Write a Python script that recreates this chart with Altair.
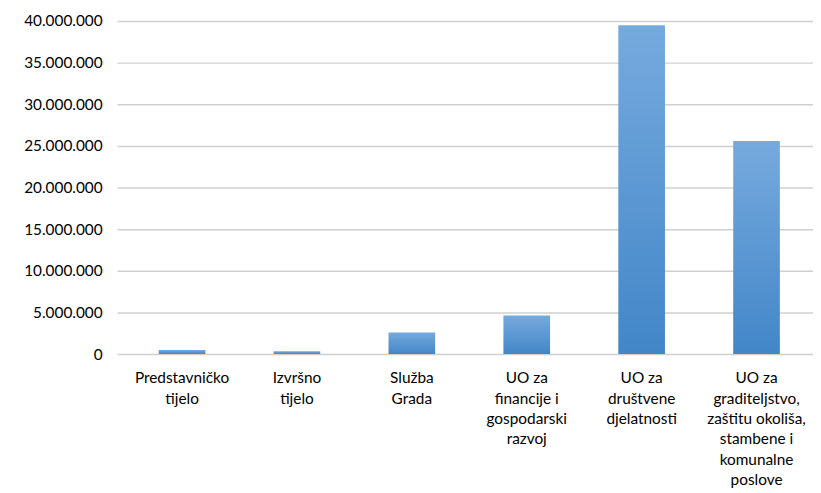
import altair as alt
import pandas as pd

categories = [
    "Predstavničko\ntijelo",
    "Izvršno\ntijelo",
    "Služba\nGrada",
    "UO za\nfinancije i\ngospodarski\nrazvoj",
    "UO za\ndruštvene\ndjelatnosti",
    "UO za\ngraditeljstvo,\nzaštitu okoliša,\nstambene i\nkomunalne\nposlove",
]
values = [500000, 350000, 2600000, 4650000, 39500000, 25600000]
y_ticks = [0, 5000000, 10000000, 15000000, 20000000, 25000000, 30000000, 35000000, 40000000]

df = pd.DataFrame({"cat": categories, "val": values})

font = "Lato"

chart = alt.Chart(df).mark_bar(
    color=alt.LinearGradient(
        gradient="linear", x1=0, y1=0, x2=0, y2=1,
        stops=[alt.GradientStop(offset=0, color="#76aade"),
               alt.GradientStop(offset=1, color="#4286c8")],
    )
).encode(
    x=alt.X("cat:N", sort=categories, title=None,
            scale=alt.Scale(paddingInner=0.594, paddingOuter=0.3255, align=0.557),
            axis=alt.Axis(labelAngle=0, labelExpr="split(datum.label, '\\n')",
                          labelFont=font, labelFontSize=15.5, labelColor="#000000",
                          labelLineHeight=20.5, labelPadding=17, ticks=False,
                          domain=False, grid=False, labelLimit=200)),
    y=alt.Y("val:Q", title=None,
            scale=alt.Scale(domain=[0, 40000000], nice=False),
            axis=alt.Axis(values=y_ticks,
                          labelExpr="replace(format(datum.value, ','), /,/g, '.')",
                          labelFont=font, labelFontSize=15.5, labelColor="#000000",
                          labelPadding=15, ticks=False, domain=False,
                          grid=True, gridColor="#d0d0d0", gridWidth=1.5)),
).properties(
    width=702, height=336,
    autosize=alt.AutoSizeParams(type="none"),
    padding={"left": 110, "top": 11, "right": 0, "bottom": 138},
).configure_view(stroke=None)

chart.save("out.html", embed_options={"renderer": "svg", "actions": False})
